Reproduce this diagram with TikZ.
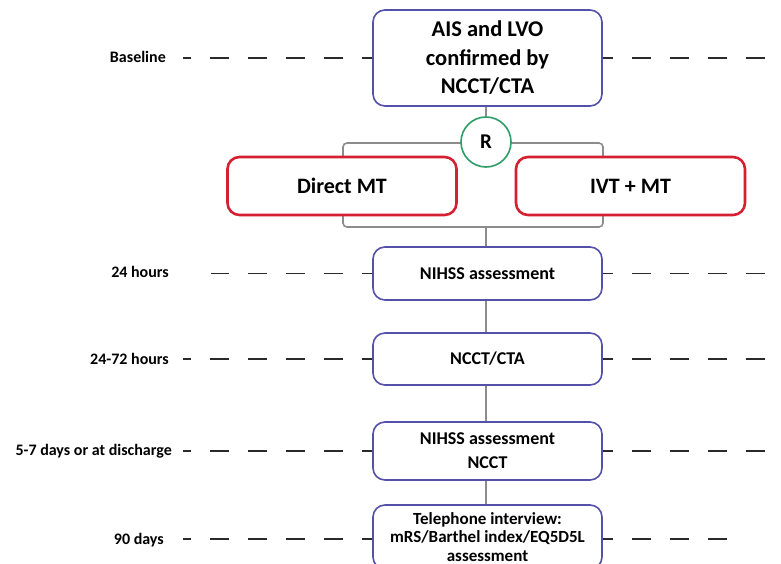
\documentclass[tikz,border=0pt]{standalone}
\usepackage{fontspec}
\setmainfont{Carlito}
\definecolor{boxblue}{HTML}{5550A8}
\definecolor{boxred}{HTML}{D42030}
\definecolor{rgreen}{HTML}{2E9E68}
\definecolor{lgray}{HTML}{8C8C8C}
\definecolor{dashc}{HTML}{2A2A2A}
\begin{document}
\begin{tikzpicture}[x=1pt,y=-1pt,
  bluebox/.style={draw=boxblue, line width=1.6pt, rounded corners=12pt, fill=white,
    align=center, inner sep=0pt, minimum width=229pt, font=\fontsize{18}{20}\selectfont\bfseries},
  redbox/.style={draw=boxred, line width=2.6pt, rounded corners=12pt, fill=white,
    align=center, inner sep=0pt, minimum width=229pt, minimum height=58pt,
    font=\fontsize{22}{26}\selectfont\bfseries},
  rcircle/.style={circle, draw=rgreen, line width=1.6pt, fill=white, minimum size=50pt,
    inner sep=0pt, font=\fontsize{21}{24}\selectfont\bfseries},
  lab/.style={anchor=east, inner sep=0pt, font=\fontsize{16}{18}\selectfont\bfseries},
  link/.style={draw=lgray, line width=1.6pt},
  dashline/.style={draw=dashc, line width=1.9pt, dash pattern=on 19pt off 19pt, dash phase=9pt}]
\clip (0,0) rectangle (781,564);
\fill[white] (0,0) rectangle (781,564);
% gray bracket
\draw[link, rounded corners=4pt] (343,143) rectangle (603,227);
% boxes
\node[bluebox, minimum height=96pt, font=\fontsize{22.5}{28.5}\selectfont\bfseries] (top) at (487.5,58) {AIS and LVO\\confirmed by\\NCCT/CTA};
\node[rcircle] (r) at (486,142) {R};
\node[redbox] (dmt) at (342,186) {Direct MT};
\node[redbox] (ivt) at (630.5,186) {IVT + MT};
\node[bluebox, minimum height=53pt] (n24) at (487.5,273.5) {NIHSS assessment};
\node[bluebox, minimum height=52pt] (n72) at (487.5,359) {NCCT/CTA};
\node[bluebox, minimum height=58pt, font=\fontsize{18}{24}\selectfont\bfseries] (n7) at (487.5,451) {NIHSS assessment\\NCCT};
\node[bluebox, minimum height=64pt, font=\fontsize{17}{18.5}\selectfont\bfseries] (n90) at (487.5,537) {Telephone interview:\\mRS/Barthel index/EQ5D5L\\assessment};
% vertical links
\coordinate (bb) at (486,227);
\draw[link] (top.south -| r) -- (r.north);
\draw[link] (bb) -- (n24.north -| bb);
\draw[link] (n24.south -| bb) -- (n72.north -| bb);
\draw[link] (n72.south -| bb) -- (n7.north -| bb);
\draw[link] (n7.south -| bb) -- (n90.north -| bb);
% labels
\node[lab] (l1) at (166,57) {Baseline};
\node[lab] (l2) at (169,272) {24 hours};
\node[lab] (l3) at (169,359) {24-72 hours};
\node[lab] (l4) at (172,451) {5-7 days or at discharge};
\node[lab] (l5) at (164,540) {90 days};
% dashed timelines
\coordinate (a1) at (183,58); \coordinate (b1) at (781,58);
\coordinate (a2) at (211,273.5); \coordinate (b2) at (781,273.5);
\coordinate (a3) at (183,359); \coordinate (b3) at (781,359);
\coordinate (a4) at (183,451); \coordinate (b4) at (781,451);
\coordinate (a5) at (183,539); \coordinate (b5) at (728,539);
\foreach \n/\i in {top/1,n24/2,n72/3,n7/4,n90/5}{
  \draw[dashline] (\n.west |- a\i) -- (a\i);
  \draw[dashline] (\n.east |- b\i) -- (b\i);
}
\end{tikzpicture}
\end{document}
